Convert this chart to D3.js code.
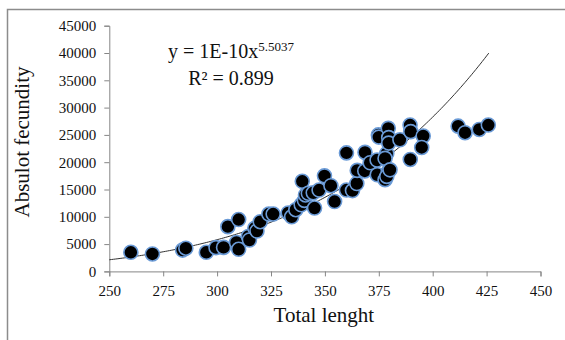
<!DOCTYPE html>
<html>
<head>
<meta charset="utf-8">
<script src="https://cdn.jsdelivr.net/npm/d3@7"></script>
<style>
  body { margin: 0; background: #fff; }
  svg text { font-family: "Liberation Serif", "Times New Roman", serif; }
</style>
</head>
<body>
<svg id="drawing_region"></svg>
<script>
// total length (mm) and absolute fecundity
const lengths = [260, 270, 284, 285.5, 295, 299.5, 303, 305, 309, 310, 310, 314.5, 315, 317.5, 318.5, 320,
    324, 326, 333, 334.6, 336.5, 339, 339.5, 340.5, 341, 342.3, 344.6, 345.2, 347.3, 349.8, 352.8, 354.5,
    360, 360, 362.8, 364.8, 365, 368.6, 368.5, 371, 374.2, 374.8, 375, 374.3, 377.9, 378.7, 377.9,
    379.4, 379.6, 379.6, 379.4, 378.7, 380.2, 384.8, 389.5, 389.8, 389.6, 395.6, 394.9,
    411.8, 415, 421.6, 425.8];
const fecundity = [3500, 3200, 3900, 4250, 3500, 4350, 4400, 8200, 5300, 9500, 4050, 6400, 5750, 7900, 7400, 9100,
    10500, 10500, 10700, 10000, 11300, 12200, 16500, 13000, 14000, 14300, 14400, 11600, 14900, 17500, 15700, 12800,
    21700, 14900, 14800, 16100, 18500, 21800, 18400, 19900, 20400, 25000, 24600, 17700, 16800, 21600, 20700,
    26200, 24500, 23500, 18300, 17400, 18600, 24100, 26800, 25600, 20500, 24800, 22700,
    26600, 25400, 26000, 26800];

const xTicks = [250, 275, 300, 325, 350, 375, 400, 425, 450];
const yTicks = [0, 5000, 10000, 15000, 20000, 25000, 30000, 35000, 40000, 45000];

// power trend line y = a * x^b
const trendA = 1.35e-10;
const trendB = 5.5037;
const trendRange = [250, 426];

const data = lengths.map((d, i) => ({ x: d, y: fecundity[i] }));

const config = {
    width: 565,
    height: 340,
    margin: { top: 25.7, right: 24.5, bottom: 68.6, left: 109.3 }
};

const svg = d3.select('#drawing_region')
    .attr('width', config.width)
    .attr('height', config.height);

// outer frame (only top and left edges are visible)
svg.append('path')
    .attr('d', `M7.5,${config.height} V9.5 H${config.width}`)
    .attr('fill', 'none')
    .attr('stroke', '#8c8c8c')
    .attr('stroke-width', 1.5);

const inner_width = config.width - config.margin.left - config.margin.right;
const inner_height = config.height - config.margin.top - config.margin.bottom;

const chart = svg.append('g')
    .attr('transform', `translate(${config.margin.left}, ${config.margin.top})`);

const xscale = d3.scaleLinear().domain([250, 450]).range([0, inner_width]);
const yscale = d3.scaleLinear().domain([0, 45000]).range([inner_height, 0]);

const xaxis = d3.axisBottom(xscale).tickValues(xTicks).tickSize(5).tickPadding(6).tickFormat(d3.format('d'));
const yaxis = d3.axisLeft(yscale).tickValues(yTicks).tickSize(5).tickPadding(8).tickFormat(d3.format('d'));

const xg = chart.append('g')
    .attr('transform', `translate(0, ${inner_height})`)
    .call(xaxis);
const yg = chart.append('g').call(yaxis);

[xg, yg].forEach(g => {
    g.attr('font-family', 'Liberation Serif').attr('font-size', 15);
    g.selectAll('path, line').attr('stroke', '#868686');
    g.selectAll('text').attr('fill', '#111');
});
xg.selectAll('text').attr('dy', '0.9em');

// trend line
const trend = d3.range(trendRange[0], trendRange[1] + 0.5, 1)
    .map(x => ({ x: x, y: trendA * Math.pow(x, trendB) }));

chart.append('path')
    .datum(trend)
    .attr('fill', 'none')
    .attr('stroke', '#333')
    .attr('stroke-width', 1)
    .attr('d', d3.line().x(d => xscale(d.x)).y(d => yscale(d.y)));

// points
chart.selectAll('circle')
    .data(data)
    .join('circle')
    .attr('cx', d => xscale(d.x))
    .attr('cy', d => yscale(d.y))
    .attr('r', 7)
    .attr('fill', '#000')
    .attr('stroke', '#6a9ad6')
    .attr('stroke-width', 1.6);

// axis titles
svg.append('text')
    .attr('x', config.margin.left + inner_width / 2 - 1)
    .attr('y', 322)
    .attr('text-anchor', 'middle')
    .style('font-size', '21px')
    .attr('fill', '#111')
    .text('Total lenght');

svg.append('text')
    .attr('transform', `translate(29, 142) rotate(-90)`)
    .attr('text-anchor', 'middle')
    .style('font-size', '21px')
    .attr('fill', '#111')
    .text('Absulot fecundity');

// equation
const eq = svg.append('text')
    .attr('x', 231)
    .attr('y', 58)
    .attr('text-anchor', 'middle')
    .style('font-size', '20px')
    .attr('fill', '#111');
eq.append('tspan').text('y = 1E-10x');
eq.append('tspan').attr('dy', -7).style('font-size', '13px').text('5.5037');

svg.append('text')
    .attr('x', 231)
    .attr('y', 85)
    .attr('text-anchor', 'middle')
    .style('font-size', '20px')
    .attr('fill', '#111')
    .text('R² = 0.899');
</script>
</body>
</html>
